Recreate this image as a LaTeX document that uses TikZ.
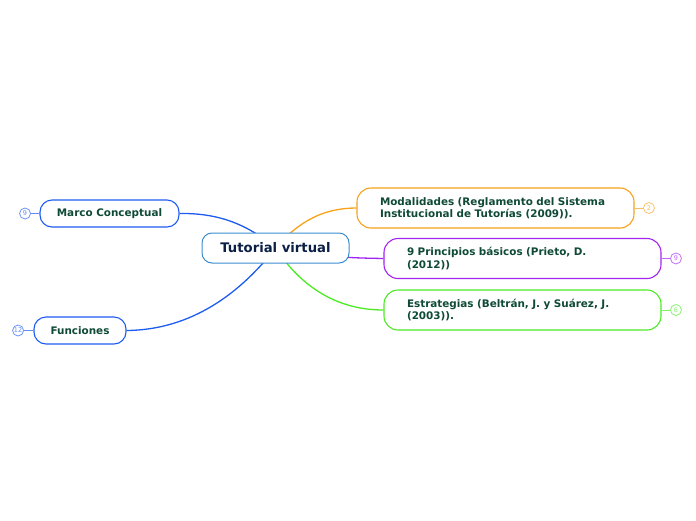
\documentclass[tikz,border=0pt]{standalone}
\usepackage{fontspec}
\setmainfont{DejaVu Sans}
\usetikzlibrary{positioning, backgrounds}
\definecolor{tutblue}{HTML}{3A8DD0}
\definecolor{tutnavy}{HTML}{0B1F45}
\definecolor{leafgreen}{HTML}{0E4A35}
\definecolor{modorange}{HTML}{F7A21B}
\definecolor{prinpurple}{HTML}{A224F0}
\definecolor{estgreen}{HTML}{4CEB24}
\definecolor{leftblue}{HTML}{1D5CF0}
\tikzset{
  % Mind map styles
  topic/.style={rectangle, rounded corners=10pt, draw=tutblue, fill=white, line width=1pt, minimum width=147pt, minimum height=30pt, text centered, text=tutnavy, font=\fontsize{13.2}{15}\selectfont\bfseries},
  branch/.style={rectangle, rounded corners=14pt, draw=#1, fill=white, line width=1.1pt, text width=231pt, inner xsep=23pt, minimum height=40pt, align=left, text=leafgreen, font=\fontsize{10.4}{12.5}\selectfont\bfseries},
  leaf/.style={rectangle, rounded corners=12pt, draw=#1, fill=white, line width=1.1pt, minimum height=27pt, text centered, text=leafgreen, font=\fontsize{10.4}{12}\selectfont\bfseries},
  badge/.style={circle, draw=#1!65, fill=white, text=#1!70, inner sep=0pt, minimum size=11pt, line width=0.8pt, font=\fontsize{6.5}{7}\selectfont},
  link/.style={draw=#1, line width=1.3pt},
  stub/.style={draw=#1!70, line width=0.9pt},
}
\begin{document}
\begin{tikzpicture}[x=1pt, y=-1pt]
    \useasboundingbox (0,0) rectangle (696,520);

    % Central topic
    \node[topic] (tut) at (275.5,248) {Tutorial virtual};

    % Right branches
    \node[branch=modorange] (modal) at (495.5,208) {Modalidades (Reglamento del Sistema\\Institucional de Tutorías (2009)).};
    \node[branch=prinpurple] (prin) at (522.5,258.5) {9 Principios básicos (Prieto, D.\\(2012))};
    \node[branch=estgreen] (estr) at (522.5,310) {Estrategias (Beltrán, J. y Suárez, J.\\(2003)).};

    % Left branches
    \node[leaf=leftblue, minimum width=139pt] (marco) at (109.5,213.5) {Marco Conceptual};
    \node[leaf=leftblue, minimum width=92pt] (func) at (80,330.5) {Funciones};

    % Badges
    \node[badge=modorange, right=8.5pt of modal] (bmodal) {2};
    \node[badge=prinpurple, right=8.5pt of prin] (bprin) {9};
    \node[badge=estgreen, right=8.5pt of estr] (bestr) {6};
    \node[badge=leftblue, left=8.5pt of marco] (bmarco) {9};
    \node[badge=leftblue, left=9.5pt of func] (bfunc) {12};

    % Connectors
    \begin{scope}[on background layer]
      \draw[link=modorange] (tut.center) .. controls (300,220) and (325,208) .. (modal.west);
      \draw[link=prinpurple] (tut.center) .. controls (325,258) and (360,258) .. (prin.west);
      \draw[link=estgreen] (tut.center) .. controls (300,285) and (335,310) .. (estr.west);
      \draw[link=leftblue] (tut.center) .. controls (245,222) and (215,213) .. (marco.east);
      \draw[link=leftblue] (tut.center) .. controls (235,300) and (185,330) .. (func.east);
      \draw[stub=modorange] (modal.east) -- (bmodal.west);
      \draw[stub=prinpurple] (prin.east) -- (bprin.west);
      \draw[stub=estgreen] (estr.east) -- (bestr.west);
      \draw[stub=leftblue] (marco.west) -- (bmarco.east);
      \draw[stub=leftblue] (func.west) -- (bfunc.east);
    \end{scope}
  \end{tikzpicture}
\end{document}
